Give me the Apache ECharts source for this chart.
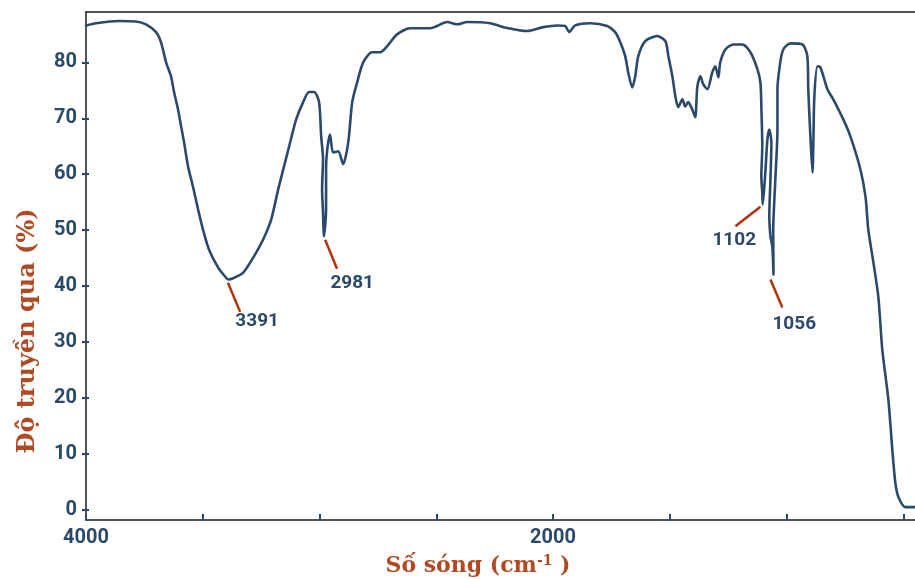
<!DOCTYPE html>
<html>
<head>
<meta charset="utf-8">
<script src="https://cdn.jsdelivr.net/npm/echarts@6/dist/echarts.min.js"></script>
<style>
html,body{margin:0;padding:0;background:#fff;}
#chart{width:915px;height:579px;}
</style>
</head>
<body>
<div id="chart"></div>
<script>
// Wavenumber (cm-1) and transmittance (%), in drawing order
const wavenumber = [4000,3957,3859,3786,3743,3700,3679,3657,3636,3623,3606,3593,3580,3563,3542,3520,3499,3473,3434,3400,3391,3370,3327,3284,3242,3207,3177,3152,3130,3100,3070,3045,3023,3002,2993,2985,2989,2985,2981,2972,2972,2967,2955,2942,2920,2899,2877,2860,2839,2813,2775,2740,2710,2668,2612,2526,2453,2410,2368,2269,2213,2111,2042,1982,1948,1931,1905,1841,1768,1734,1712,1691,1678,1661,1648,1635,1605,1554,1519,1506,1489,1476,1464,1446,1434,1421,1404,1391,1382,1369,1357,1339,1318,1305,1292,1284,1262,1228,1189,1155,1125,1112,1108,1104,1108,1104,1102,1091,1082,1074,1065,1069,1074,1069,1061,1056,1057,1048,1039,1039,1027,1014,984,932,911,907,898,889,885,881,868,855,825,800,757,727,684,662,650,628,607,590,564,547,534,521,491,450];
const transmittance = [86.6,87.0,87.4,87.3,86.8,85.4,83.6,80.0,77.5,74.7,71.6,68.6,65.7,61.4,57.8,53.7,50.1,46.5,43.3,41.5,41.2,41.4,42.4,45.1,48.3,51.9,57.3,61.4,65.0,69.8,72.9,74.7,74.7,72.9,66.8,62.7,57.3,53.2,48.9,53.7,60.9,64.4,67.1,63.9,64.1,61.8,65.7,72.9,76.4,80.0,81.8,81.8,82.9,85.0,86.1,86.1,87.2,86.8,87.2,87.0,86.3,85.6,86.3,86.6,86.5,85.4,86.6,87.0,86.5,85.4,83.6,81.1,78.2,75.5,77.5,81.1,83.8,84.7,83.8,81.1,77.5,73.9,72.0,73.4,72.1,72.9,71.6,70.2,75.7,77.5,76.1,75.2,78.2,79.3,77.3,80.0,82.3,83.2,83.2,81.8,78.8,76.4,72.1,65.0,59.6,56.7,54.6,60.3,66.2,68.0,65.7,59.1,52.5,48.9,47.1,42.1,50.1,59.1,68.0,75.2,80.0,82.3,83.4,83.2,81.1,75.2,66.8,60.3,66.2,73.9,79.3,79.1,75.2,73.4,69.8,66.8,60.9,56.0,50.1,44.2,38.1,28.6,19.7,10.7,4.8,2.3,0.5,0.5];

// Axis ticks and labels
const xTickValues = [4000,3500,3000,2500,2000,1500,1000,500];
const xLabelValues = [4000,2000];
const yTickValues = [0,10,20,30,40,50,60,70,80];

// Peak annotations
const peakNames = ['3391','2981','1102','1056'];
const leaderStart = [[3392,40.6],[2976,48.3],[1112,54.2],[1069,41.2]];
const leaderEnd   = [[3340,35.4],[2925,43.1],[1219,50.7],[1018,36.2]];
const labelAt     = [[3267,33.7],[2860,40.6],[1224,48.2],[967,33.1]];

const blue = '#2b4a6b';
const rust = '#b04a22';
const leaderColor = '#b3320c';

const chart = echarts.init(document.getElementById('chart'), null, {renderer:'canvas'});

const xMin = 450, xMax = 4000, yMin = -1.8, yMax = 89;

const option = {
  animation: false,
  grid: {left: 86, right: 0, top: 12, bottom: 59},
  xAxis: [{
    type: 'value', inverse: true, min: xMin, max: xMax,
    axisLine: {show: true, onZero: false, lineStyle: {color: '#1a1a1a', width: 1.5}},
    axisTick: {show: true, inside: true, length: 6, lineStyle: {color: blue, width: 2}, customValues: xTickValues},
    axisLabel: {show: true, customValues: xLabelValues, formatter: v => String(v), color: blue, fontFamily: 'Roboto', fontWeight: 'bold', fontSize: 20, margin: 8},
    splitLine: {show: false}
  }, {
    type: 'value', position: 'top', inverse: true, min: xMin, max: xMax,
    axisLine: {show: true, onZero: false, lineStyle: {color: '#1a1a1a', width: 1.5}},
    axisTick: {show: false}, axisLabel: {show: false}, splitLine: {show: false}
  }],
  yAxis: [{
    type: 'value', min: yMin, max: yMax,
    axisLine: {show: true, onZero: false, lineStyle: {color: '#1a1a1a', width: 1.5}},
    axisTick: {show: true, inside: false, length: 4, lineStyle: {color: blue, width: 2}, customValues: yTickValues},
    axisLabel: {show: true, customValues: yTickValues, formatter: v => String(v), color: blue, fontFamily: 'Roboto', fontWeight: 'bold', fontSize: 20, margin: 9},
    splitLine: {show: false}
  }, {
    type: 'value', position: 'left', min: yMin, max: yMax,
    axisLine: {show: false},
    axisTick: {show: true, inside: true, length: 3, lineStyle: {color: blue, width: 2}, customValues: yTickValues},
    axisLabel: {show: false}, splitLine: {show: false}
  }],
  series: [{
    type: 'line',
    data: wavenumber.map((w, i) => [w, transmittance[i]]),
    showSymbol: false,
    symbol: 'none',
    smooth: 0.25,
    lineStyle: {color: blue, width: 2.6, join: 'round', cap: 'round'},
    silent: true,
    markLine: {
      silent: true,
      symbol: ['none', 'none'],
      label: {show: false},
      lineStyle: {color: leaderColor, width: 2.5, type: 'solid'},
      data: leaderStart.map((s, i) => [{coord: s}, {coord: leaderEnd[i]}])
    }
  }, {
    type: 'scatter',
    symbolSize: 0,
    silent: true,
    itemStyle: {opacity: 1},
    data: peakNames.map((n, i) => ({name: n, value: labelAt[i]})),
    label: {
      show: true, position: 'inside', formatter: p => p.name,
      color: blue, fontFamily: 'Roboto', fontWeight: 'bold', fontSize: 19
    }
  }],
  graphic: [{
    type: 'text', x: 28, y: 331, rotation: Math.PI / 2,
    style: {text: 'Độ truyền qua (%)', fill: rust, font: 'bold 24px "DejaVu Serif"', textAlign: 'center', textVerticalAlign: 'middle'}
  }, {
    type: 'text', x: 478, y: 566,
    style: {
      text: '{a|Số sóng (cm}{s|-1}{a| )}',
      textAlign: 'center', textVerticalAlign: 'middle',
      rich: {
        a: {fill: rust, font: 'bold 22px "DejaVu Serif"'},
        s: {fill: rust, font: 'bold 14px "DejaVu Serif"', padding: [0, 0, 10, 0]}
      }
    }
  }]
};
chart.setOption(option);
</script>
</body>
</html>
